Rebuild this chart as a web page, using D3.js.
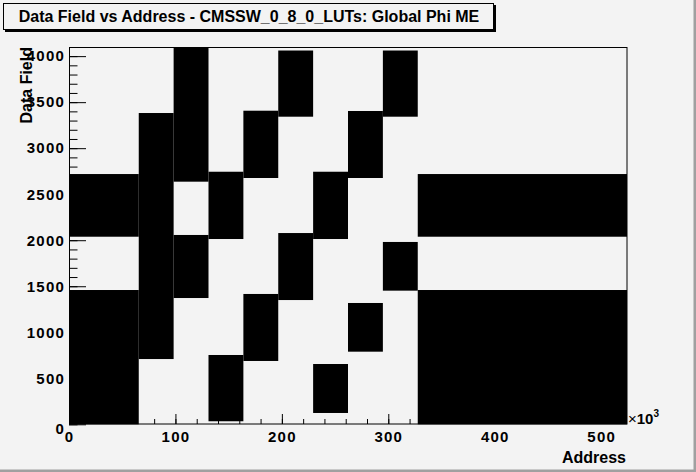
<!DOCTYPE html>
<html>
<head>
<meta charset="utf-8">
<script src="https://cdn.jsdelivr.net/npm/d3@7"></script>
<style>
  body { margin: 0; background: #f3f3f3; }
  svg { display: block; }
  text { font-family: "Liberation Sans", Arial, sans-serif; font-weight: bold; fill: #000; }
</style>
</head>
<body>
<script>
// LUT boxes: address range (x) and data field range (y)
var addrLo = [0, 0, 65536, 98304, 98304, 131072, 131072, 163840, 163840, 196608, 196608, 229376, 229376, 262144, 262144, 294912, 294912, 327680, 327680];
var addrHi = [65536, 65536, 98304, 131072, 131072, 163840, 163840, 196608, 196608, 229376, 229376, 262144, 262144, 294912, 294912, 327680, 327680, 524288, 524288];
var fieldLo = [2038, 0, 709, 2636, 1372, 2013, 33, 2676, 688, 3342, 1350, 2013, 123, 2676, 789, 3342, 1452, 2038, 0];
var fieldHi = [2719, 1459, 3382, 4096, 2057, 2744, 753, 3407, 1416, 4061, 2078, 2744, 655, 3404, 1318, 4061, 1981, 2719, 1459];

var xMajor = [0, 100000, 200000, 300000, 400000, 500000];
var yMajor = [0, 500, 1000, 1500, 2000, 2500, 3000, 3500, 4000];

var titleText = "Data Field vs Address - CMSSW_0_8_0_LUTs: Global Phi ME";

var W = 696, H = 472;
var svg = d3.select('body').append('svg').attr('width', W).attr('height', H);

// canvas background with border
svg.append('rect').attr('x', 0).attr('y', 0).attr('width', W).attr('height', H).attr('fill', '#f3f3f3');
svg.append('path').attr('d', 'M0,471 H695 V0').attr('fill', 'none').attr('stroke', '#a0a0a0').attr('stroke-width', 3);

var x = d3.scaleLinear().domain([0, 524288]).range([69, 627]);
var y = d3.scaleLinear().domain([0, 4096]).range([424.3, 47.3]);

var boxes = d3.range(addrLo.length);
svg.append('g').selectAll('rect').data(boxes).enter().append('rect')
    .attr('x', function(i) { return x(addrLo[i]); })
    .attr('width', function(i) { return x(addrHi[i]) - x(addrLo[i]); })
    .attr('y', function(i) { return y(fieldHi[i]); })
    .attr('height', function(i) { return y(fieldLo[i]) - y(fieldHi[i]); })
    .attr('fill', '#000');

// frame
svg.append('rect')
    .attr('x', 69.5).attr('y', 47.5)
    .attr('width', 627 - 69.5).attr('height', 424 - 47.5)
    .attr('fill', 'none').attr('stroke', '#000');

// x axis
var xMinor = svg.append('g').attr('transform', 'translate(0,424)')
    .call(d3.axisBottom(x).tickValues(d3.range(0, 524288, 20000)).tickSize(-5).tickFormat(''));
var xAxis = svg.append('g').attr('transform', 'translate(0,424)')
    .call(d3.axisBottom(x).tickValues(xMajor).tickSize(-10).tickPadding(7)
        .tickFormat(function(d) { return d / 1000; }));

// y axis
var yMinor = svg.append('g').attr('transform', 'translate(69,0)')
    .call(d3.axisLeft(y).tickValues(d3.range(0, 4096, 100)).tickSize(-8.5).tickFormat(''));
var yAxis = svg.append('g').attr('transform', 'translate(69,0)')
    .call(d3.axisLeft(y).tickValues(yMajor).tickSize(-17).tickPadding(4).tickFormat(d3.format('d')));

[xMinor, xAxis, yMinor, yAxis].forEach(function(g) {
    g.select('.domain').remove();
    g.selectAll('line').attr('stroke', '#000');
    g.selectAll('text').attr('font-size', 15).attr('letter-spacing', 1.2)
        .attr('font-family', null).attr('fill', '#000');
});
yAxis.selectAll('text').filter(function(d) { return d === 0; }).attr('dy', '0.62em');

// x10^3 exponent
var expo = svg.append('text').attr('x', 628).attr('y', 424).attr('font-size', 15);
expo.append('tspan').attr('font-weight', 'normal').text('\u00d7');
expo.append('tspan').text('10');
expo.append('tspan').attr('font-size', 10).attr('dy', -7).text('3');

// axis titles
svg.append('text').attr('x', 626).attr('y', 463).attr('text-anchor', 'end')
    .attr('font-size', 16).text('Address');
svg.append('text').attr('transform', 'translate(32,47) rotate(-90)').attr('text-anchor', 'end')
    .attr('font-size', 16).text('Data Field');

// title box with shadow
svg.append('rect').attr('x', 5).attr('y', 5).attr('width', 491).attr('height', 27).attr('fill', '#000');
svg.append('rect').attr('x', 3.5).attr('y', 3.5).attr('width', 490).attr('height', 26)
    .attr('fill', '#f3f3f3').attr('stroke', '#000');
svg.append('text').attr('x', 249).attr('y', 22).attr('text-anchor', 'middle')
    .attr('font-size', 16).text(titleText);
</script>
</body>
</html>
